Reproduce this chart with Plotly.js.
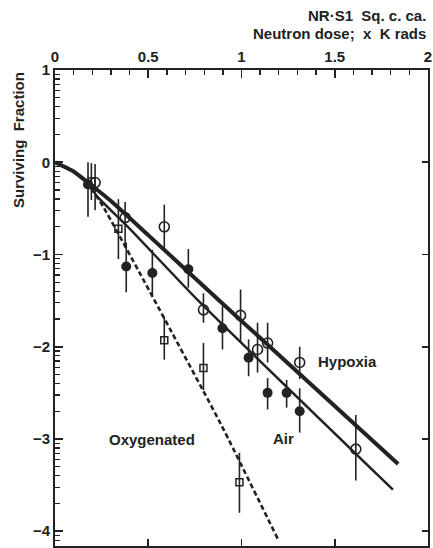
<!DOCTYPE html>
<html><head><meta charset="utf-8">
<script src="https://cdn.plot.ly/plotly-3.0.1.min.js"></script>
<style>html,body{margin:0;padding:0;background:#fff}#chart{width:433px;height:548px}</style>
</head><body><div id="chart"></div>
<script>
// ---- data (dose in K rads, log10 surviving fraction) ----
const hypoxiaDose     = [0.215, 0.376, 0.586, 0.796, 0.995, 1.086, 1.140, 1.312, 1.613];
const hypoxiaLogSF    = [-0.22, -0.60, -0.70, -1.60, -1.66, -2.03, -1.96, -2.17, -3.11];
const hypoxiaErrUp    = [0.20, 0.17, 0.24, 0.18, 0.28, 0.29, 0.22, 0.17, 0.37];
const hypoxiaErrDown  = [0.30, 0.32, 0.25, 0.14, 0.29, 0.25, 0.21, 0.18, 0.34];

const airDose     = [0.177, 0.382, 0.522, 0.715, 0.898, 1.038, 1.140, 1.242, 1.312];
const airLogSF    = [-0.24, -1.13, -1.20, -1.16, -1.80, -2.12, -2.50, -2.50, -2.70];
const airErrUp    = [0.24, 0.26, 0.25, 0.22, 0.24, 0.20, 0.16, 0.14, 0.25];
const airErrDown  = [0.35, 0.28, 0.24, 0.20, 0.23, 0.20, 0.18, 0.16, 0.23];

const oxyDose     = [0.195, 0.340, 0.586, 0.796, 0.989];
const oxyLogSF    = [-0.21, -0.72, -1.93, -2.23, -3.47];
const oxyErrUp    = [0.20, 0.32, 0.25, 0.27, 0.32];
const oxyErrDown  = [0.20, 0.33, 0.21, 0.24, 0.33];

// fitted curves
const hypoxiaFitDose = [0, 0.10, 0.17, 0.30, 0.50, 1.00, 1.84];
const hypoxiaFitLog  = [0, -0.10, -0.21, -0.42, -0.79, -1.72, -3.27];
const airFitDose = [0, 0.10, 0.17, 0.226, 0.40, 0.763, 1.812];
const airFitLog  = [0, -0.10, -0.21, -0.37, -0.72, -1.49, -3.55];
const oxyFitDose = [0.17, 0.258, 0.473, 0.887, 1.194];
const oxyFitLog  = [-0.21, -0.48, -1.27, -2.83, -4.08];

const xTickVals = [0, 0.5, 1, 1.5, 2];
const xTickText = ['0', '0.5', '1', '1.5', '2'];
const yTickVals = [1, 0, -1, -2, -3, -4];
const yTickText = ['1', '0', '\u22121', '\u22122', '\u22123', '\u22124'];

// ---- styling ----
const ink = '#222222';
const FONT = 'Liberation Sans, Arial, sans-serif';
const yRange = [-4.16, 1.0];
const yMinor = [];
for (let d = -5; d <= 0; d++) {
  for (let k = 2; k <= 9; k++) {
    const v = d + Math.log10(k);
    if (v > yRange[0] && v < yRange[1]) yMinor.push(v);
  }
}

function errs(up, down) {
  return {type: 'data', symmetric: false, array: up, arrayminus: down,
          width: 0, thickness: 1.6, color: ink};
}

const traces = [
  {x: hypoxiaFitDose, y: hypoxiaFitLog, mode: 'lines', line: {color: ink, width: 4, shape: 'spline', smoothing: 0.5}, hoverinfo: 'skip'},
  {x: airFitDose, y: airFitLog, mode: 'lines', line: {color: ink, width: 2.4, shape: 'spline', smoothing: 0.5}, hoverinfo: 'skip'},
  {x: oxyFitDose, y: oxyFitLog, mode: 'lines', line: {color: ink, width: 2.6, dash: '5px,3px', shape: 'spline', smoothing: 0.5}, hoverinfo: 'skip'},
  {x: oxyDose, y: oxyLogSF, mode: 'markers', error_y: errs(oxyErrUp, oxyErrDown),
   marker: {symbol: 'square-open', size: 7, color: ink, line: {width: 1.5, color: ink}}},
  {x: hypoxiaDose, y: hypoxiaLogSF, mode: 'markers', error_y: errs(hypoxiaErrUp, hypoxiaErrDown),
   marker: {symbol: 'circle-open', size: 10, color: ink, line: {width: 1.6, color: ink}}},
  {x: airDose, y: airLogSF, mode: 'markers', error_y: errs(airErrUp, airErrDown),
   marker: {symbol: 'circle', size: 10, color: ink, line: {width: 0}}},
  // invisible trace to drive the mirrored axes
  {x: [0], y: [0], xaxis: 'x2', yaxis: 'y2', mode: 'markers', marker: {opacity: 0}, hoverinfo: 'skip'}
];

const layout = {
  width: 433, height: 548,
  margin: {l: 55, r: 5, t: 70, b: 2},
  paper_bgcolor: '#fff', plot_bgcolor: '#fff',
  showlegend: false,
  font: {family: FONT, color: ink},
  xaxis: {
    side: 'top', range: [0, 2], tickvals: xTickVals, ticktext: xTickText,
    ticks: 'inside', ticklen: 8, tickwidth: 1.6, tickcolor: ink,
    showline: true, linecolor: ink, linewidth: 2, showgrid: false, zeroline: false,
    tickfont: {size: 15, family: FONT, color: ink, weight: 'bold'},
    minor: {dtick: 0.1, ticks: 'inside', ticklen: 5, tickwidth: 1.4, tickcolor: ink, showgrid: false}
  },
  xaxis2: {
    overlaying: 'x', side: 'bottom', range: [0, 2], tickvals: [0.5, 1, 1.5],
    ticks: 'inside', ticklen: 7, tickwidth: 1.6, tickcolor: ink, showticklabels: false,
    showline: true, linecolor: ink, linewidth: 2, showgrid: false, zeroline: false
  },
  yaxis: {
    range: yRange, tickvals: yTickVals, ticktext: yTickText,
    ticks: 'inside', ticklen: 8, tickwidth: 1.6, tickcolor: ink,
    showline: true, linecolor: ink, linewidth: 2, showgrid: false, zeroline: false,
    tickfont: {size: 15, family: FONT, color: ink, weight: 'bold'},
    minor: {tickvals: yMinor, ticks: 'inside', ticklen: 5, tickwidth: 1.3, tickcolor: ink, showgrid: false}
  },
  yaxis2: {
    overlaying: 'y', side: 'right', range: yRange, tickvals: [0, -1, -2, -3, -4],
    ticks: 'inside', ticklen: 6, tickwidth: 1.6, tickcolor: ink, showticklabels: false,
    showline: true, linecolor: ink, linewidth: 2, showgrid: false, zeroline: false
  },
  annotations: [
    {xref: 'paper', yref: 'paper', x: 1.0, y: 1.1155, xanchor: 'right', yanchor: 'middle', showarrow: false,
     text: 'NR\u00b7S1  Sq. c. ca.', font: {size: 15, family: FONT, color: ink, weight: 'bold'}},
    {xref: 'paper', yref: 'paper', x: 1.0, y: 1.0777, xanchor: 'right', yanchor: 'middle', showarrow: false,
     text: 'Neutron dose;  x  K rads', font: {size: 15, family: FONT, color: ink, weight: 'bold'}},
    {xref: 'paper', yref: 'paper', x: -0.0965, y: 0.853, xanchor: 'center', yanchor: 'middle', showarrow: false,
     textangle: -90, text: 'Surviving  Fraction', font: {size: 15, family: FONT, color: ink, weight: 'bold'}},
    {xref: 'x', yref: 'y', x: 1.398, y: -2.16, xanchor: 'left', yanchor: 'middle', showarrow: false,
     text: 'Hypoxia', font: {size: 15, family: FONT, color: ink, weight: 'bold'}},
    {xref: 'x', yref: 'y', x: 1.156, y: -3.0, xanchor: 'left', yanchor: 'middle', showarrow: false,
     text: 'Air', font: {size: 15, family: FONT, color: ink, weight: 'bold'}},
    {xref: 'x', yref: 'y', x: 0.28, y: -3.01, xanchor: 'left', yanchor: 'middle', showarrow: false,
     text: 'Oxygenated', font: {size: 15, family: FONT, color: ink, weight: 'bold'}}
  ]
};

Plotly.newPlot('chart', traces, layout, {displayModeBar: false, staticPlot: true});
</script>
</body></html>
